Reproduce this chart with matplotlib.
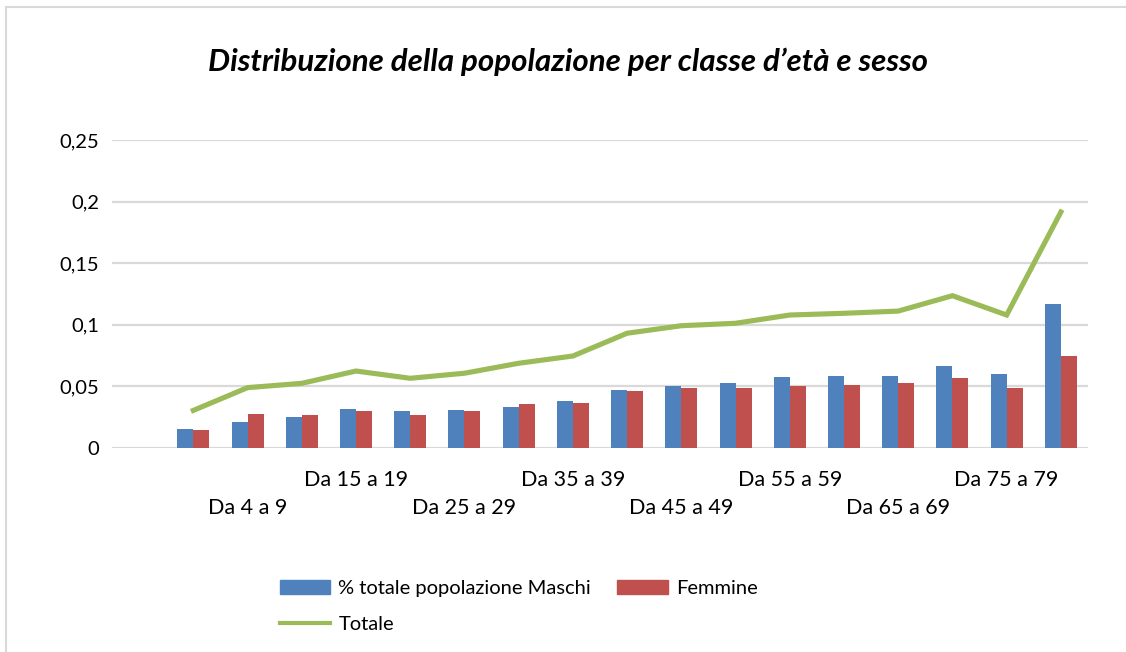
import numpy as np
import matplotlib
matplotlib.use("Agg")
import matplotlib.pyplot as plt
from matplotlib.patches import Rectangle
from matplotlib.lines import Line2D

# Classi d'età (la prima categoria è vuota, come nel grafico originale)
categorie = ["", "Da 0 a 3", "Da 4 a 9", "Da 10 a 14", "Da 15 a 19", "Da 20 a 24",
             "Da 25 a 29", "Da 30 a 34", "Da 35 a 39", "Da 40 a 44", "Da 45 a 49",
             "Da 50 a 54", "Da 55 a 59", "Da 60 a 64", "Da 65 a 69", "Da 70 a 74",
             "Da 75 a 79", "80 e oltre"]

maschi = [np.nan, 0.0152, 0.0209, 0.0250, 0.0314, 0.0298, 0.0306, 0.0331, 0.0380,
          0.0469, 0.0501, 0.0523, 0.0571, 0.0580, 0.0580, 0.0661, 0.0596, 0.1165]
femmine = [np.nan, 0.0144, 0.0274, 0.0266, 0.0298, 0.0266, 0.0298, 0.0355, 0.0363,
           0.0460, 0.0485, 0.0482, 0.0498, 0.0506, 0.0523, 0.0563, 0.0482, 0.0742]
totale = [np.nan, 0.0303, 0.0488, 0.0523, 0.0623, 0.0564, 0.0605, 0.0686, 0.0745,
          0.0930, 0.0991, 0.1011, 0.1078, 0.1092, 0.1110, 0.1235, 0.1078, 0.1915]

blu = "#4F81BD"
rosso = "#C0504D"
verde = "#9BBB59"

plt.rcParams["font.family"] = ["Lato", "DejaVu Sans"]

fig = plt.figure(figsize=(11.26, 6.52), dpi=100)
W, H = 1126, 652
ax = fig.add_axes([112 / W, 1 - 447.7 / H, 976 / W, 307.7 / H])

x = np.arange(len(categorie))
larg = 0.295
ax.bar(x - larg / 2, maschi, width=larg, color=blu, zorder=3)
ax.bar(x + larg / 2, femmine, width=larg, color=rosso, zorder=3)
ax.plot(x, totale, color=verde, lw=3.7, zorder=4, solid_joinstyle="miter")

ax.set_xlim(-0.5, len(categorie) - 0.5)
ax.set_ylim(0, 0.25)
ax.set_yticks([0, 0.05, 0.1, 0.15, 0.2, 0.25])
ax.set_yticklabels(["0", "0,05", "0,1", "0,15", "0,2", "0,25"], fontsize=14.5)
ax.grid(axis="y", color="#D9D9D9", lw=1.6, zorder=0)
for s in ax.spines.values():
    s.set_visible(False)
ax.tick_params(axis="y", length=0, pad=9)
ax.tick_params(axis="x", length=0)
ax.set_xticks([])

# etichette a file alternate, una ogni due categorie
for i in range(2, len(categorie), 2):
    riga = 480 if (i // 2) % 2 == 0 else 508
    fig.text(x[i] * 54.22 / W + (112 + 27.1) / W, 1 - riga / H, categorie[i],
             ha="center", va="center", fontsize=15.5)

fig.text(568 / W, 1 - 62 / H, "Distribuzione della popolazione per classe d\u2019età e sesso",
         ha="center", va="center", fontsize=22.5, fontweight="bold", fontstyle="italic")

handles = [Rectangle((0, 0), 1, 1, color=blu),
           Line2D([], [], color=verde, lw=3),
           Rectangle((0, 0), 1, 1, color=rosso)]
labels = ["% totale popolazione Maschi", "Totale", "Femmine"]
fig.legend(handles, labels, ncol=2, loc="upper left", bbox_to_anchor=(280 / W, 1 - 580 / H),
           frameon=False, fontsize=14.5, handlelength=2.5, handleheight=0.65,
           handletextpad=0.4, columnspacing=1.3, labelspacing=0.95,
           borderpad=0, borderaxespad=0)

# bordo esterno
fig.patches.append(Rectangle((6 / W, -0.1), 1.2, 1 - 7 / H + 0.1, transform=fig.transFigure,
                             fill=False, edgecolor="#D9D9D9", lw=1.5))

fig.savefig("out.png", dpi=100)
